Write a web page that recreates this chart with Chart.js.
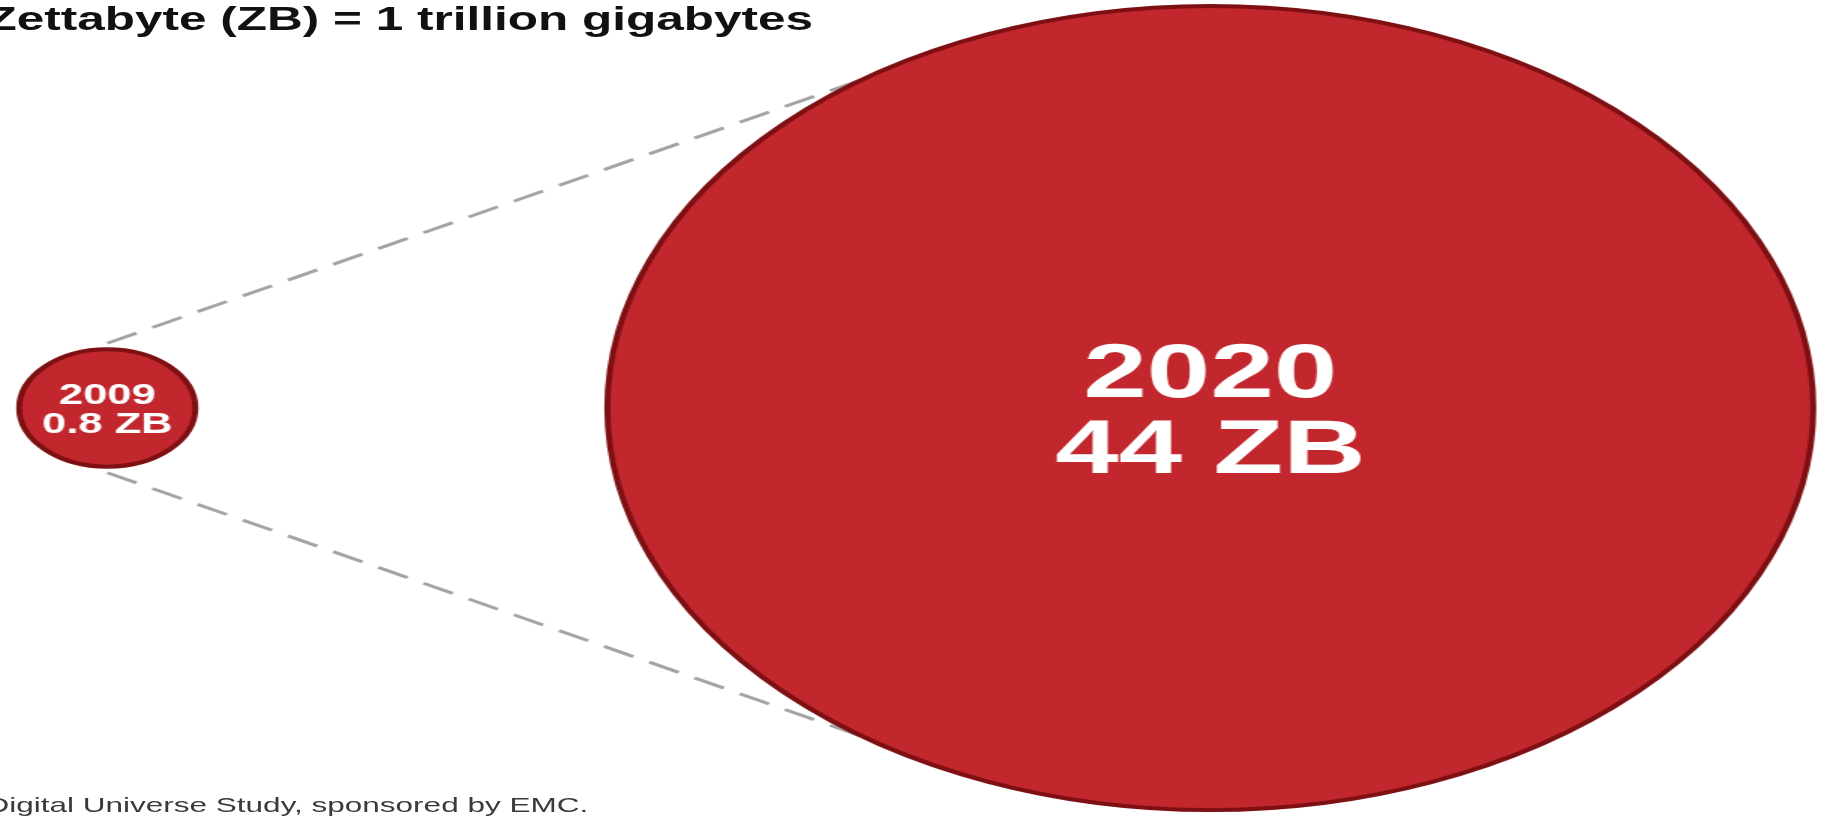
<!DOCTYPE html>
<html>
<head>
<meta charset="utf-8">
<title>Digital universe: 2009 vs 2020</title>
<script src="https://cdn.jsdelivr.net/npm/chart.js@4.4.1/dist/chart.umd.min.js"></script>
<style>
  html, body { margin: 0; padding: 0; background: #fff; overflow: hidden; }
  body { width: 1824px; height: 816px; position: relative; font-family: "Liberation Sans", Arial, sans-serif; }
  /* the whole original graphic is stretched sideways by about 1.5 */
  #stage { position: absolute; left: 0; top: 0; width: 1216px; height: 816px; transform: scaleX(1.5); transform-origin: 0 0; }
  #growth { position: absolute; left: 0; top: 0; }
  #headline { position: absolute; left: -9px; top: 2px; font-size: 33px; font-weight: bold; line-height: 1; color: #111; white-space: nowrap; }
  #source { position: absolute; left: -9px; top: 794px; font-size: 21px; line-height: 1; color: #3a3a3a; white-space: nowrap; }
</style>
</head>
<body>
<div id="stage">
  <canvas id="growth" width="1216" height="816"></canvas>
  <div id="headline"></div>
  <div id="source"></div>
</div>
<script>
// Data
const years = [2009, 2020];
const zettabytes = [0.8, 44];
const unit = 'ZB';
const headline = 'Zettabyte (ZB) = 1 trillion gigabytes';
const sourceNote = 'Digital Universe Study, sponsored by EMC.';

// Look
const fillRed = '#c1272d';
const edgeRed = '#7e1014';
const labelSizes = [29, 76];
const maxRadius = 402;
const sizeExponent = 0.48; // growth of the bubbles as drawn in the picture

document.getElementById('headline').textContent = headline;
document.getElementById('source').textContent = sourceNote;

function radiusFor(value) {
    return maxRadius * Math.pow(value / Math.max(...zettabytes), sizeExponent);
}

// dashed "zoom" lines from the small bubble out to the big one
const connectors = {
    id: 'connectors',
    beforeDatasetsDraw(chart) {
        const pts = chart.getDatasetMeta(0).data;
        if (pts.length < 2) return;
        const small = pts[0], big = pts[1];
        const rs = radiusFor(zettabytes[0]);
        const rb = radiusFor(zettabytes[1]);
        const ctx = chart.ctx;
        ctx.save();
        ctx.strokeStyle = '#a4a4a4';
        ctx.lineWidth = 3;
        ctx.setLineDash([22, 12]);
        [-1, 1].forEach(side => {
            const ang = side * 125 * Math.PI / 180;
            ctx.beginPath();
            ctx.moveTo(small.x, small.y + side * (rs + 6));
            ctx.lineTo(big.x + rb * Math.cos(ang), big.y + rb * Math.sin(ang));
            ctx.stroke();
        });
        ctx.restore();
    }
};

// year and size written inside each bubble
const bubbleLabels = {
    id: 'bubbleLabels',
    afterDatasetsDraw(chart) {
        const ctx = chart.ctx;
        ctx.save();
        ctx.fillStyle = '#ffffff';
        ctx.textAlign = 'center';
        ctx.textBaseline = 'alphabetic';
        chart.getDatasetMeta(0).data.forEach((pt, i) => {
            const f = labelSizes[i];
            ctx.font = `bold ${f}px "Liberation Sans", Arial, sans-serif`;
            const base = pt.y - 0.142 * f;
            ctx.fillText(String(years[i]), pt.x, base);
            ctx.fillText(`${zettabytes[i]} ${unit}`, pt.x, base + f);
        });
        ctx.restore();
    }
};

new Chart(document.getElementById('growth'), {
    type: 'bubble',
    data: {
        datasets: [{
            label: 'Digital universe (ZB)',
            data: years.map((y, i) => ({ x: y, y: 0, r: radiusFor(zettabytes[i]) })),
            backgroundColor: fillRed,
            borderColor: edgeRed,
            borderWidth: 4,
            clip: false
        }]
    },
    options: {
        responsive: false,
        animation: false,
        devicePixelRatio: 1,
        events: [],
        layout: { padding: 0, autoPadding: false },
        plugins: {
            legend: { display: false },
            tooltip: { enabled: false }
        },
        scales: {
            x: { type: 'linear', display: false, min: 2007.93, max: 2026.12 },
            y: { type: 'linear', display: false, min: -1, max: 1 }
        }
    },
    plugins: [connectors, bubbleLabels]
});
</script>
</body>
</html>
